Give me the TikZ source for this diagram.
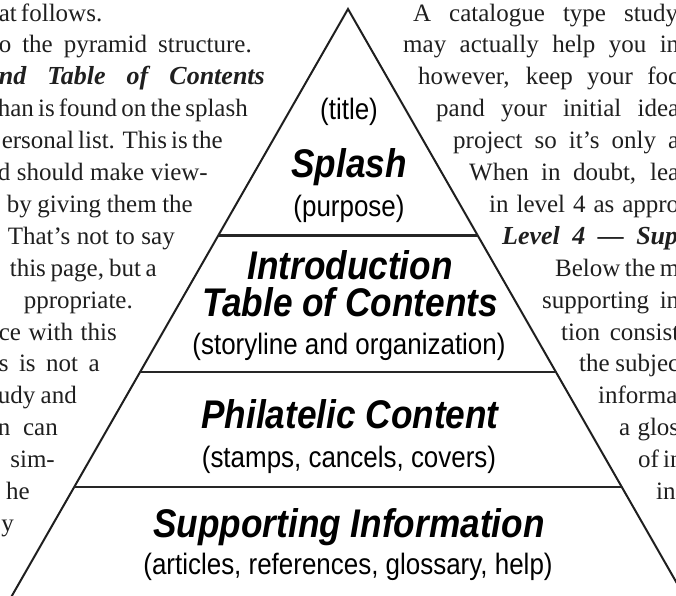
\documentclass[tikz,border=0pt]{standalone}
\usepackage{fontspec}
\setmainfont{Liberation Serif}
\newfontfamily\pyrfont[FakeStretch=0.88]{Liberation Sans}
% a justified line of body text, spread to a given width (in pt)
\newcommand\jline[2]{\makebox[#1pt][s]{#2}}
\begin{document}
\begin{tikzpicture}[x=1pt,y=-1pt,
  side/.style={draw=black!88, line width=2pt, line join=miter},
  tier/.style={draw=black!85, line width=2.2pt},
  bodytext/.style={inner sep=0pt, text=black!88, font=\fontsize{25}{30}\selectfont},
  lefttext/.style={bodytext, anchor=base east},
  righttext/.style={bodytext, anchor=base west},
  headtext/.style={font=\fontsize{26}{30}\selectfont\bfseries\itshape},
  tiername/.style={inner sep=0pt, anchor=base, text=black,
    font=\pyrfont\fontsize{40}{44}\selectfont\bfseries\itshape},
  tiernote/.style={inner sep=0pt, anchor=base, text=black,
    font=\pyrfont\fontsize{29.5}{34}\selectfont},
]
\useasboundingbox (0,0) rectangle (676,595);
\clip (0,0) rectangle (676,595);

% ---- pyramid outline ----
\coordinate (apex) at (348,9);
\coordinate (baseL) at (9.5,600);
\coordinate (baseR) at (686.5,600);
\coordinate (t1L) at (218.3,235.5);
\coordinate (t1R) at (477.7,235.5);
\coordinate (t2L) at (140.1,372);
\coordinate (t2R) at (555.9,372);
\coordinate (t3L) at (74.3,487);
\coordinate (t3R) at (621.7,487);
\draw[side] (baseL) -- (apex) -- (baseR);
\draw[tier] (t1L) -- (t1R);
\draw[tier] (t2L) -- (t2R);
\draw[tier] (t3L) -- (t3R);

% ---- pyramid levels ----
\node[tiernote] (title)   at (349,119) {(title)};
\node[tiername] (splash)  at (349,177) {Splash};
\node[tiernote] (purpose) at (349,216) {(purpose)};
\node[tiername] (intro)   at (350,279) {Introduction};
\node[tiername] (toc)     at (350,316) {Table of Contents};
\node[tiernote] (story)   at (349,354) {(storyline and organization)};
\node[tiername] (phil)    at (350,428) {Philatelic Content};
\node[tiernote] (stamps)  at (349,467) {(stamps, cancels, covers)};
\node[tiername] (supp)    at (349,537) {Supporting Information};
\node[tiernote] (refs)    at (348,574) {(articles, references, glossary, help)};

% ---- body text, left column ----
\node[lefttext] (l1)  at (100,21)    {\jline{101}{at follows.}};
\node[lefttext] (l2)  at (252,52.9)  {\jline{253}{o the pyramid structure.}};
\node[lefttext,headtext] (l3) at (265,84.8) {\jline{266}{nd Table of Contents}};
\node[lefttext] (l4)  at (247,116.7) {\jline{249}{han is found on the splash}};
\node[lefttext] (l5)  at (218,148.6) {\jline{216}{ersonal list. This is the}};
\node[lefttext] (l6)  at (208,180.5) {\jline{210}{d should make view-}};
\node[lefttext] (l7)  at (193,212.4) {\jline{186}{by giving them the}};
\node[lefttext] (l8)  at (175,244.3) {\jline{167}{That’s not to say}};
\node[lefttext] (l9)  at (157,276.2) {\jline{147}{this page, but a}};
\node[lefttext] (l10) at (133,308.1) {ppropriate.};
\node[lefttext] (l11) at (117,340)   {\jline{118}{ce with this}};
\node[lefttext] (l12) at (100,371.9) {\jline{101}{s is not a}};
\node[lefttext] (l13) at (77,403.8)  {\jline{79}{udy and}};
\node[lefttext] (l14) at (58,435.7)  {\jline{60}{n can}};
\node[lefttext] (l15) at (55,467.6)  {sim-};
\node[lefttext] (l16) at (30,499.5)  {he};
\node[lefttext] (l17) at (14,531.4)  {y};

% ---- body text, right column ----
\node[righttext] (r1)  at (413,21)    {\jline{265}{A catalogue type study}};
\node[righttext] (r2)  at (403,52.9)  {\jline{276}{may actually help you in}};
\node[righttext] (r3)  at (418,84.8)  {\jline{261}{however, keep your foc}};
\node[righttext] (r4)  at (436,116.7) {\jline{243}{pand your initial idea}};
\node[righttext] (r5)  at (453,148.6) {\jline{226}{project so it’s only a}};
\node[righttext] (r6)  at (469,180.5) {\jline{210}{When in doubt, lea}};
\node[righttext] (r7)  at (489,212.4) {\jline{190}{in level 4 as appro}};
\node[righttext,headtext] (r8) at (502,244.3) {\jline{176}{Level 4 — Sup}};
\node[righttext] (r9)  at (555,276.2) {\jline{124}{Below the m}};
\node[righttext] (r10) at (542,308.1) {\jline{137}{supporting in}};
\node[righttext] (r11) at (561,340)   {\jline{118}{tion consist}};
\node[righttext] (r12) at (579,371.9) {\jline{100}{the subjec}};
\node[righttext] (r13) at (598,403.8) {informa};
\node[righttext] (r14) at (619,435.7) {\jline{60}{a glos}};
\node[righttext] (r15) at (638,467.6) {\jline{41}{of in}};
\node[righttext] (r16) at (656,499.5) {in};
\end{tikzpicture}
\end{document}
